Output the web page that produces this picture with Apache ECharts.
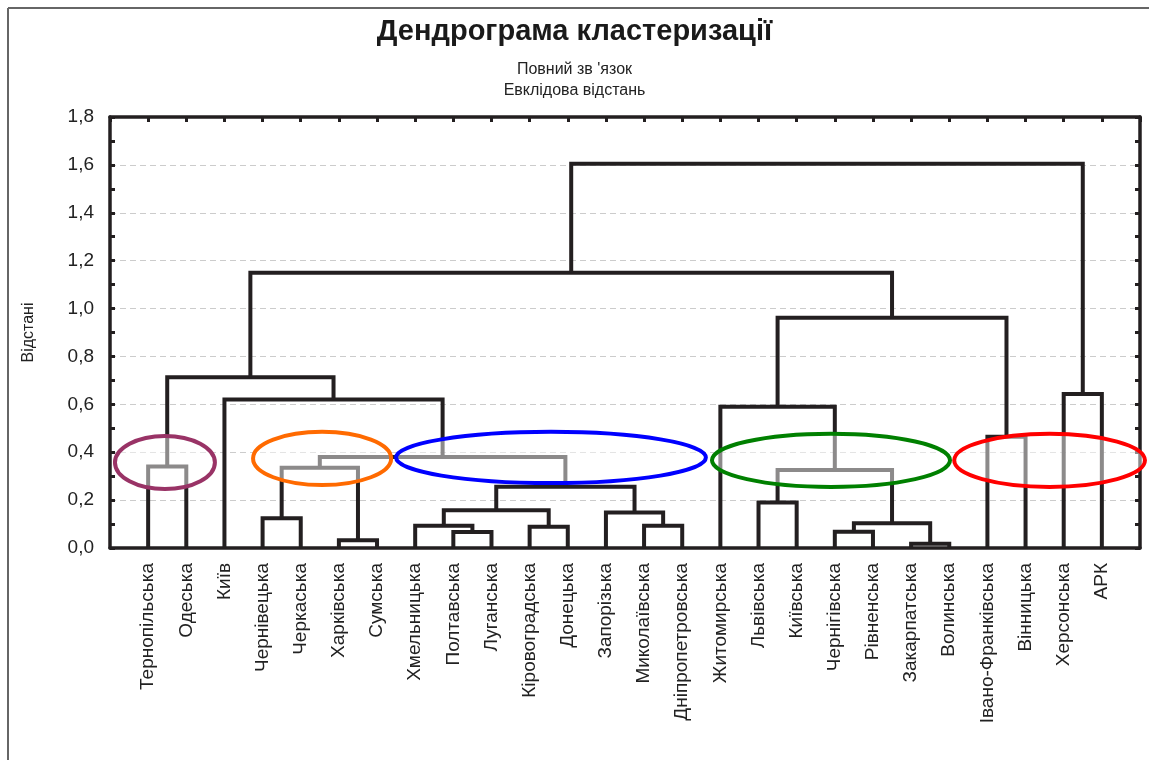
<!DOCTYPE html>
<html>
<head>
<meta charset="utf-8">
<script src="https://cdn.jsdelivr.net/npm/echarts@6/dist/echarts.min.js"></script>
<style>
html,body{margin:0;padding:0;background:#fff;}
#chart{width:1149px;height:760px;}
</style>
</head>
<body>
<div id="chart"></div>
<script>
// Leaves in dendrogram order
const leaves = ['Тернопільська','Одеська','Київ','Чернівецька','Черкаська','Харківська','Сумська',
  'Хмельницька','Полтавська','Луганська','Кіровоградська','Донецька','Запорізька','Миколаївська',
  'Дніпропетровська','Житомирська','Львівська','Київська','Чернігівська','Рівненська','Закарпатська',
  'Волинська','Івано-Франківська','Вінницька','Херсонська','АРК'];

// Merge steps: child A, child B (0..25 = leaf, 26+k = cluster from step k), linkage distance
const mergeA = [20, 5, 8, 18, 10, 7, 13, 29, 3, 12, 31, 16, 36, 37, 34, 0, 40, 22, 15, 2, 24, 41, 44, 47, 49];
const mergeB = [21, 6, 9, 19, 11, 28, 14, 26, 4, 32, 30, 17, 35, 33, 27, 1, 38, 23, 39, 42, 25, 45, 43, 48, 46];
const mergeH = [0.018, 0.032, 0.067, 0.068, 0.089, 0.093, 0.093, 0.103, 0.124, 0.148, 0.158, 0.19,
  0.256, 0.326, 0.335, 0.34, 0.38, 0.465, 0.59, 0.62, 0.643, 0.713, 0.962, 1.15, 1.605];

// Highlight ellipses (centre leaf-position, centre distance, radius in leaf units, radius in distance)
const ellCx = [1.44, 5.56, 11.56, 18.9, 24.63];
const ellCy = [0.357, 0.374, 0.378, 0.366, 0.366];
const ellRx = [1.31, 1.81, 4.06, 3.12, 2.5];
const ellRy = [0.111, 0.111, 0.107, 0.111, 0.111];
const ellColor = ['#993366', '#ff6a00', '#0000ff', '#008000', '#ff0000'];

// build node positions from the tree
const nodeX = leaves.map((_, i) => i + 1);
const nodeH = leaves.map(() => 0);
const links = [];
for (let k = 0; k < mergeH.length; k++) {
  const a = mergeA[k], b = mergeB[k];
  const xa = nodeX[a], xb = nodeX[b];
  links.push([xa, nodeH[a], xb, nodeH[b], mergeH[k]]);
  nodeX.push((xa + xb) / 2);
  nodeH.push(mergeH[k]);
}
const ellData = ellCx.map((c, i) => [c, ellCy[i], ellRx[i], ellRy[i], i]);

const dark = '#231f20';
const font = 'Liberation Sans, Arial, sans-serif';
const chart = echarts.init(document.getElementById('chart'));
chart.setOption({
  animation: false,
  backgroundColor: '#fff',
  textStyle: {fontFamily: font},
  title: {
    text: 'Дендрограма кластеризації',
    subtext: 'Повний зв \'язок\nЕвклідова відстань',
    left: 'center', top: 12, itemGap: 13,
    textStyle: {fontSize: 29, fontWeight: 'bold', color: '#1a1a1a', fontFamily: font},
    subtextStyle: {fontSize: 16, color: '#222', lineHeight: 21, fontFamily: font}
  },
  graphic: [
    {type: 'line', shape: {x1: 8, y1: 8, x2: 1149, y2: 8}, style: {stroke: '#666', lineWidth: 2}, silent: true},
    {type: 'line', shape: {x1: 8, y1: 8, x2: 8, y2: 760}, style: {stroke: '#666', lineWidth: 2}, silent: true}
  ],
  grid: {left: 110, right: 9, top: 117, bottom: 212, containLabel: false},
  xAxis: [
    {
      type: 'value', min: 0, max: 27, interval: 1, position: 'bottom',
      axisLine: {onZero: false, lineStyle: {color: dark, width: 3.5}},
      axisTick: {show: false},
      splitLine: {show: false},
      axisLabel: {
        rotate: 90, margin: 15, fontSize: 19, color: '#222',
        formatter: v => leaves[v - 1] || ''
      }
    },
    {
      type: 'value', min: 0, max: 27, interval: 1, position: 'top',
      axisLine: {onZero: false, lineStyle: {color: dark, width: 3.5}},
      axisTick: {inside: true, length: 5, lineStyle: {color: dark, width: 3}},
      axisLabel: {show: false}, splitLine: {show: false}
    }
  ],
  yAxis: [
    {
      type: 'value', min: 0, max: 1.8, interval: 0.2, position: 'left',
      name: 'Відстані', nameLocation: 'middle', nameGap: 73,
      nameTextStyle: {fontSize: 16, color: '#222'},
      axisLine: {show: true, onZero: false, lineStyle: {color: dark, width: 3.5}},
      axisTick: {show: true, inside: true, length: 5, lineStyle: {color: dark, width: 3}},
      minorTick: {show: true, splitNumber: 2, length: 5, lineStyle: {color: dark, width: 3}},
      axisLabel: {fontSize: 19, color: '#222', margin: 16, formatter: v => v.toFixed(1).replace('.', ',')},
      splitLine: {show: true, lineStyle: {color: '#cccccc', type: [6, 4], width: 1}}
    },
    {
      type: 'value', min: 0, max: 1.8, interval: 0.2, position: 'right',
      axisLine: {show: true, onZero: false, lineStyle: {color: dark, width: 3.5}},
      axisTick: {show: true, inside: true, length: 5, lineStyle: {color: dark, width: 3}},
      minorTick: {show: true, splitNumber: 2, length: 5, lineStyle: {color: dark, width: 3}},
      axisLabel: {show: false}, splitLine: {show: false}
    }
  ],
  series: [
    {
      type: 'custom', name: 'links', xAxisIndex: 0, yAxisIndex: 0, clip: false, z: 3,
      encode: {x: [0, 2], y: [1, 3, 4]},
      data: links,
      renderItem: function (params, api) {
        const xl = api.value(0), hl = api.value(1), xr = api.value(2), hr = api.value(3), h = api.value(4);
        const pts = [api.coord([xl, hl]), api.coord([xl, h]), api.coord([xr, h]), api.coord([xr, hr])];
        return {type: 'polyline', shape: {points: pts},
          style: {stroke: dark, lineWidth: 4, fill: null, lineJoin: 'miter'}};
      }
    },
    {
      type: 'custom', name: 'clusters', xAxisIndex: 0, yAxisIndex: 0, clip: false, z: 5,
      encode: {x: 0, y: 1},
      data: ellData,
      renderItem: function (params, api) {
        const c = api.coord([api.value(0), api.value(1)]);
        const s = api.size([api.value(2), api.value(3)]);
        return {type: 'ellipse', shape: {cx: c[0], cy: c[1], rx: s[0], ry: s[1]},
          style: {fill: 'rgba(255,255,255,0.48)', stroke: ellColor[api.value(4)], lineWidth: 4}};
      }
    }
  ]
});
</script>
</body>
</html>
